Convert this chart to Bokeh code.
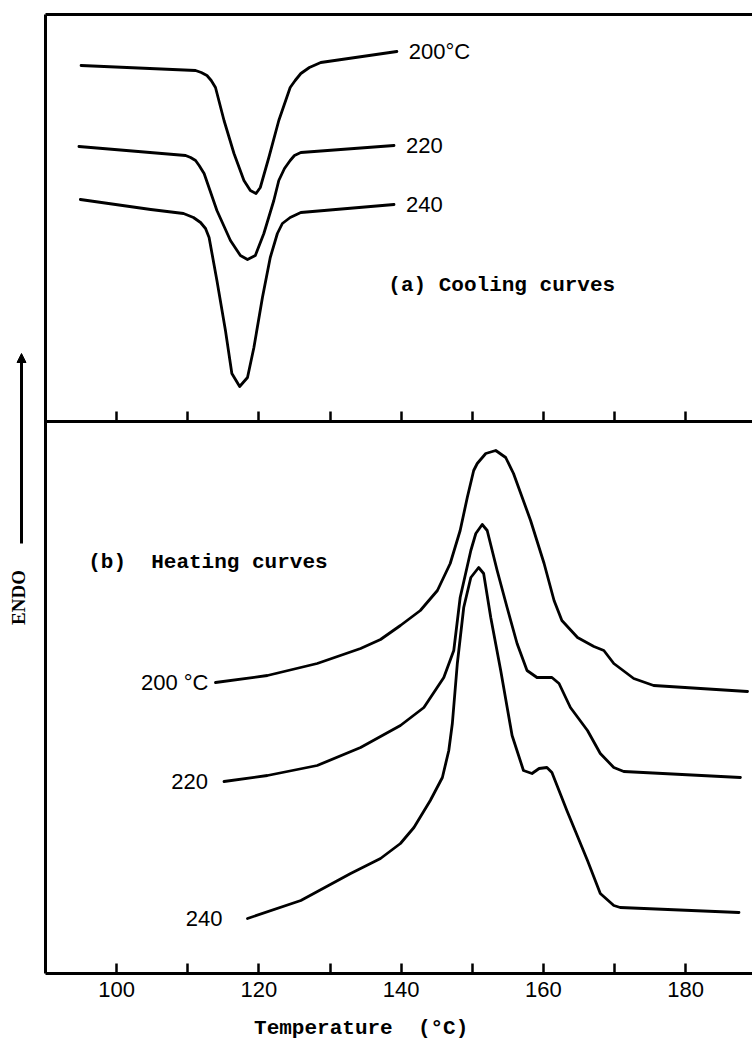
import math
from bokeh.plotting import figure
from bokeh.layouts import row
from bokeh.models import Range1d, LinearAxis, FixedTicker, Label, Arrow, NormalHead
from bokeh.core.properties import value
from bokeh.embed import file_html
from bokeh.resources import INLINE

# ---- data: temperature (deg C) and DSC signal (arbitrary units, 0 = lower axis) ----
# (a) cooling curves
cool_200_T = [95.0, 111.1, 111.9, 112.7, 113.3, 113.9, 115.1, 116.5, 117.9, 118.8, 119.6, 120.2, 121.4, 122.8,
              124.4, 125.1, 125.9, 127.1, 128.7, 139.4]
cool_200_S = [908, 903, 901, 898, 893, 886, 853, 820, 793, 783, 780, 786, 816, 853,
              886, 893, 900, 906, 911, 922]
cool_220_T = [94.7, 109.7, 110.4, 111.1, 111.6, 112.3, 114.1, 116.0, 117.4, 118.4, 119.5, 120.7, 122.1, 122.8,
              123.6, 124.4, 125.0, 125.9, 139.0]
cool_220_S = [827, 818, 816, 813, 808, 800, 763, 733, 718, 714, 718, 740, 773, 793,
              805, 813, 818, 821, 828]
cool_240_T = [94.9, 104.8, 109.4, 110.8, 111.8, 112.5, 113.0, 114.1, 115.3, 116.2, 117.3, 118.4, 119.3, 120.5,
              121.6, 122.6, 123.3, 124.4, 125.9, 139.0]
cool_240_S = [774, 764, 760, 756, 751, 745, 736, 693, 643, 600, 587, 596, 626, 676,
              716, 740, 750, 756, 761, 769]

# (b) heating curves
heat_200_T = [113.9, 121.2, 128.2, 134.3, 137.1, 139.9, 142.7, 145.1, 146.9, 148.3, 149.3, 150.2, 150.7, 151.9, 153.3,
              154.7, 155.8, 158.2, 160.1, 161.5, 162.6, 164.8, 167.1, 168.5, 169.9, 172.7, 175.5, 188.7]
heat_200_S = [291, 298, 310, 325, 334, 348, 363, 383, 410, 443, 476, 503, 510, 520, 523,
              516, 500, 453, 410, 373, 353, 336, 327, 323, 310, 295, 288, 282]
heat_220_T = [115.1, 121.2, 128.2, 134.3, 139.9, 143.2, 146.0, 147.4, 148.3, 149.8, 150.5, 151.4, 152.1, 153.5,
              154.9, 156.3, 157.7, 159.1, 161.2, 162.2, 163.8, 166.2, 168.0, 169.9, 171.3, 187.7]
heat_220_S = [192, 198, 208, 226, 248, 266, 296, 323, 376, 423, 440, 449, 443, 403,
              366, 330, 303, 296, 296, 290, 266, 243, 220, 206, 202, 196]
heat_240_T = [118.4, 125.9, 132.9, 137.1, 139.9, 141.8, 144.1, 145.8, 146.7, 147.2, 147.9, 148.8, 149.8, 150.9,
              151.6, 152.6, 154.0, 155.6, 157.2, 158.4, 159.4, 160.5, 161.2, 163.3, 166.2, 168.0, 169.9, 170.8, 187.5]
heat_240_S = [55, 73, 100, 115, 130, 146, 173, 196, 223, 250, 310, 366, 396, 406,
              400, 356, 303, 238, 203, 200, 205, 206, 201, 163, 113, 80, 68, 66, 61]

cool_labels = ["200\u00b0C", "220", "240"]
heat_labels = ["200 \u00b0C", "220", "240"]
tick_major = [100, 120, 140, 160, 180]
tick_minor = [110, 130, 150, 170]
panel_split = 552  # signal value of the axis separating panel (a) from panel (b)

AX_W = 3
LW = 2.8
mono = "Liberation Mono"
NB = "\u00a0"
S_RANGE = (0, 959)

common = dict(height=1043, output_backend="svg", toolbar_location=None,
              x_axis_type=None, y_axis_type=None, min_border_top=14, min_border_bottom=70,
              background_fill_color="white", border_fill_color="white")

# ---- narrow strip on the left holding the ENDO direction marker ----
side = figure(width=44, x_range=Range1d(0, 44), y_range=Range1d(*S_RANGE),
              min_border_left=0, min_border_right=0, **common)
side.outline_line_color = None
side.add_layout(Label(x=17.5, y=376, text="ENDO", angle=math.pi / 2, text_font="Liberation Serif",
                      text_font_size="19px", text_font_style="bold", text_align="center",
                      text_baseline="middle", text_color="black"))
side.add_layout(Arrow(end=NormalHead(size=9, fill_color="black", line_color="black"),
                      x_start=21, y_start=430, x_end=21, y_end=620,
                      line_width=3, line_color="black"))

# ---- main plot ----
p = figure(width=708, x_range=Range1d(90, 189.4), y_range=Range1d(*S_RANGE),
           min_border_left=1, min_border_right=0, **common)
p.outline_line_color = None

def bare_axis(ax):
    ax.axis_line_width = AX_W
    ax.axis_line_color = "black"
    ax.major_tick_in = 0
    ax.major_tick_out = 0
    ax.minor_tick_in = 0
    ax.minor_tick_out = 0
    ax.major_label_standoff = 0
    return ax

# bottom temperature axis
xb = LinearAxis(ticker=FixedTicker(ticks=tick_major, minor_ticks=tick_minor))
xb.axis_line_width = AX_W
xb.major_tick_in = 10
xb.major_tick_out = 0
xb.minor_tick_in = 10
xb.minor_tick_out = 0
xb.major_tick_line_width = 2.5
xb.minor_tick_line_width = 2.5
xb.major_label_standoff = 8
xb.major_label_text_font = "Liberation Sans"
xb.major_label_text_font_size = "22px"
xb.major_label_text_color = "black"
# trailing no-break spaces shift the centred title left, as in the original
xb.axis_label = "Temperature" + NB * 2 + "(\u00b0C)" + NB * 6
xb.axis_label_text_font = mono
xb.axis_label_text_font_size = "21px"
xb.axis_label_text_font_style = "bold"
xb.axis_label_text_color = "black"
xb.axis_label_standoff = 17
p.add_layout(xb, "below")

# axis separating the panels, ticks pointing up into panel (a)
xm = bare_axis(LinearAxis(ticker=FixedTicker(ticks=tick_major + tick_minor), fixed_location=panel_split))
xm.major_tick_in = 10
xm.major_tick_line_width = 2.5
xm.major_label_overrides = {t: "" for t in tick_major + tick_minor}
p.add_layout(xm, "below")

# top border
p.add_layout(bare_axis(LinearAxis(ticker=FixedTicker(ticks=[]))), "above")
# left axis
p.add_layout(bare_axis(LinearAxis(ticker=FixedTicker(ticks=[]))), "left")

for T, S in [(cool_200_T, cool_200_S), (cool_220_T, cool_220_S), (cool_240_T, cool_240_S),
             (heat_200_T, heat_200_S), (heat_220_T, heat_220_S), (heat_240_T, heat_240_S)]:
    p.line(T, S, line_width=LW, line_color="black", line_join="round", line_cap="round")

label_font = value("Liberation Sans")
p.text(x=[cool_200_T[-1], cool_220_T[-1], cool_240_T[-1]],
       y=[cool_200_S[-1], cool_220_S[-1], cool_240_S[-1]],
       text=cool_labels, x_offset=12, text_align="left", text_baseline="middle",
       text_font=label_font, text_font_size="22px", text_color="black")
p.text(x=[heat_200_T[0], heat_220_T[0], heat_240_T[0]],
       y=[heat_200_S[0], heat_220_S[0], heat_240_S[0]],
       text=heat_labels, x_offset=[-7, -16, -25], text_align="right", text_baseline="middle",
       text_font=label_font, text_font_size="22px", text_color="black")

p.add_layout(Label(x=138.2, y=688, text="(a) Cooling curves", text_font=mono, text_font_size="21px",
                   text_font_style="bold", text_align="left", text_baseline="middle", text_color="black"))
p.add_layout(Label(x=96.0, y=411, text="(b)" + NB * 2 + "Heating curves", text_font=mono, text_font_size="21px",
                   text_font_style="bold", text_align="left", text_baseline="middle", text_color="black"))

layout = row(side, p)
open("out.html", "w").write(file_html(layout, INLINE))
